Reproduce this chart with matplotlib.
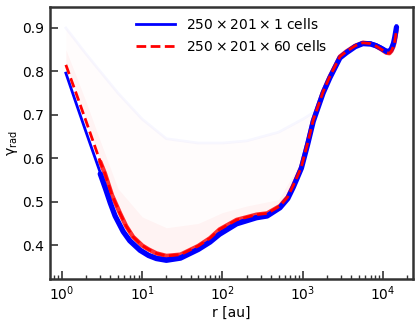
import matplotlib
matplotlib.use("Agg")
import matplotlib.pyplot as plt

plt.rcParams["mathtext.default"] = "regular"

# 1-cell run (blue) and 60-cell run (red)
r_blue = [1.12, 1.5, 2.0, 3.0, 3.5, 4.0, 4.6, 5.8, 7.0, 9.4, 12, 15, 20, 30, 50, 70,
          92, 150, 265, 360, 520, 650, 760, 850, 960, 1150, 1350, 1790, 2170, 2900,
          3500, 4500, 5600, 7000, 8200, 9500, 11000, 12000, 12700, 13500, 14000, 14700]
gamma_blue = [0.796, 0.727, 0.660, 0.567, 0.532, 0.500, 0.470, 0.434, 0.413, 0.391,
              0.379, 0.372, 0.368, 0.373, 0.393, 0.410, 0.428, 0.452, 0.466, 0.470,
              0.489, 0.510, 0.536, 0.557, 0.580, 0.635, 0.688, 0.753, 0.788, 0.834,
              0.846, 0.860, 0.867, 0.866, 0.862, 0.856, 0.849, 0.849, 0.855, 0.868,
              0.882, 0.905]

r_red = [1.12, 1.5, 2.0, 3.0, 3.43, 4.2, 5.3, 6.3, 7.7, 10, 12, 15, 20, 30, 50, 70,
         92, 150, 265, 360, 520, 650, 760, 850, 960, 1150, 1350, 1790, 2170, 2900,
         3500, 4500, 5600, 7000, 8200, 9500, 11000, 12000, 12700, 13500, 14000, 14700]
gamma_red = [0.815, 0.750, 0.685, 0.592, 0.565, 0.515, 0.473, 0.444, 0.419, 0.399,
             0.390, 0.381, 0.375, 0.378, 0.398, 0.416, 0.436, 0.458, 0.470, 0.473,
             0.490, 0.511, 0.537, 0.557, 0.580, 0.635, 0.688, 0.753, 0.788, 0.834,
             0.846, 0.859, 0.866, 0.864, 0.858, 0.851, 0.843, 0.842, 0.847, 0.858,
             0.870, 0.895]

# spread of the individual phi cells of the 60-cell run
r_cloud = [1.12, 1.5, 2, 3, 5, 10, 20, 50, 100, 200, 500, 1000, 1500]
cloud_low = [0.815, 0.75, 0.685, 0.592, 0.48, 0.40, 0.374, 0.398, 0.44, 0.465, 0.49, 0.59, 0.70]
cloud_mid = [0.85, 0.79, 0.73, 0.64, 0.53, 0.465, 0.44, 0.45, 0.475, 0.49, 0.505, 0.60, 0.70]
cloud_top = [0.90, 0.87, 0.84, 0.80, 0.75, 0.69, 0.645, 0.635, 0.635, 0.64, 0.66, 0.69, 0.71]

fig = plt.figure(figsize=(4.2, 3.24), dpi=100)
ax = fig.add_axes([0.119, 0.139, 0.864, 0.839])

ax.fill_between(r_cloud, cloud_low, cloud_top, color="red", alpha=0.012, lw=0)
ax.fill_between(r_cloud, cloud_low, cloud_mid, color="red", alpha=0.035, lw=0)
ax.plot(r_cloud, cloud_top, color="blue", alpha=0.03, lw=2)

# thick bands of the per-cell points
ax.plot(r_red[3:], gamma_red[3:], color="red", lw=3.2, alpha=0.8,
        solid_capstyle="round")
ax.plot(r_blue[3:], [g - 0.003 for g in gamma_blue[3:]], color="blue", lw=3.8,
        solid_capstyle="round")
ax.plot(r_blue, gamma_blue, color="blue", lw=2,
        label=r"$250\times201\times1$ cells")
ax.plot(r_red, gamma_red, color="red", lw=2, ls=(0, (3.5, 1.6)),
        label=r"$250\times201\times60$ cells")

ax.set_xscale("log")
ax.set_xlim(0.71, 23500)
ax.set_ylim(0.322, 0.948)
ax.set_yticks([0.4, 0.5, 0.6, 0.7, 0.8, 0.9])
ax.set_xlabel("r [au]", fontsize=10, labelpad=2)
ax.set_ylabel(r"$\gamma_{rad}$", fontsize=10, labelpad=2)

for s in ax.spines.values():
    s.set_linewidth(1.8)
    s.set_color("#333333")
ax.tick_params(which="major", direction="in", length=6, width=1.2, labelsize=10,
               color="#333333", pad=4)
ax.tick_params(which="minor", direction="in", length=3, width=1, color="#333333")

ax.legend(loc="upper center", frameon=False, fontsize=10, handlelength=2.8,
          borderaxespad=0.3)

fig.savefig("out.png", dpi=100)
